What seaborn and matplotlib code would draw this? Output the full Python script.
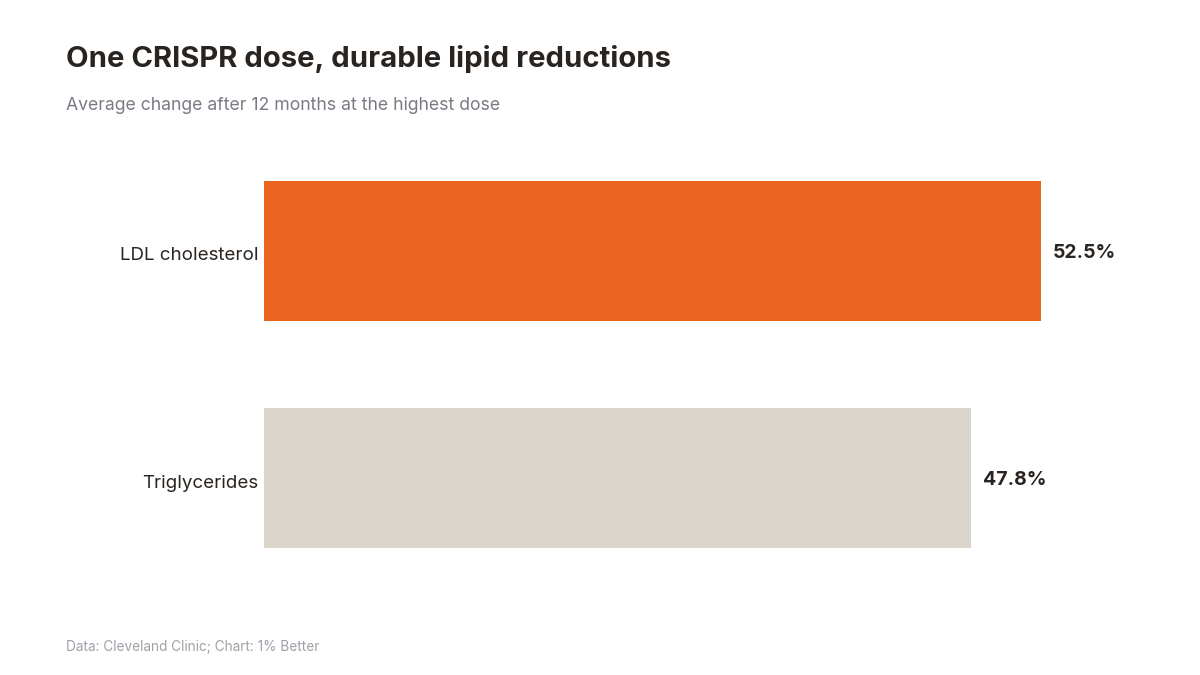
import matplotlib
matplotlib.use("Agg")
import matplotlib.pyplot as plt
import matplotlib.transforms as mtransforms
import seaborn as sns
import pandas as pd

categories = ["LDL cholesterol", "Triglycerides"]
values = [52.5, 47.8]
value_labels = ["52.5%", "47.8%"]
bar_colors = ["#EC6520", "#DAD4CA"]

sns.set_theme(style="white")
plt.rcParams["font.family"] = ["Inter", "DejaVu Sans"]

df = pd.DataFrame({"category": categories, "value": values})

fig = plt.figure(figsize=(12, 6.75), dpi=100)
ax = fig.add_axes([0.22, 0.1237, 0.73, 0.6726])
sns.barplot(data=df, x="value", y="category", hue="category",
            palette=bar_colors, width=0.617, legend=False, ax=ax,
            saturation=1, linewidth=0)
ax.set_xlim(0, 876 / 14.8)
ax.set_ylim(1.5, -0.5)
for i, (v, lab) in enumerate(zip(values, value_labels)):
    ax.text(v + 0.8, i + 0.01, lab, va="center", ha="left", fontsize=14,
            fontweight="bold", color="#2A2420")
ax.set_xlabel("")
ax.set_ylabel("")
ax.set_xticks([])
ax.tick_params(axis="y", length=0, pad=4, labelsize=13.5, labelcolor="#2A2420")
offset = mtransforms.ScaledTranslation(0, -3 / 100, fig.dpi_scale_trans)
for lbl in ax.get_yticklabels():
    lbl.set_transform(lbl.get_transform() + offset)
for s in ax.spines.values():
    s.set_visible(False)

fig.text(66 / 1200, 1 - 59 / 675, "One CRISPR dose, durable lipid reductions",
         fontsize=21.1, fontweight="bold", color="#2A2420", va="center", ha="left")
fig.text(66 / 1200, 1 - 105 / 675, "Average change after 12 months at the highest dose",
         fontsize=12.7, color="#7A7A85", va="center", ha="left")
fig.text(66 / 1200, 1 - 647 / 675, "Data: Cleveland Clinic; Chart: 1% Better",
         fontsize=9.8, color="#A0A0A8", va="center", ha="left")

fig.savefig("out.png", dpi=100, facecolor="white")
